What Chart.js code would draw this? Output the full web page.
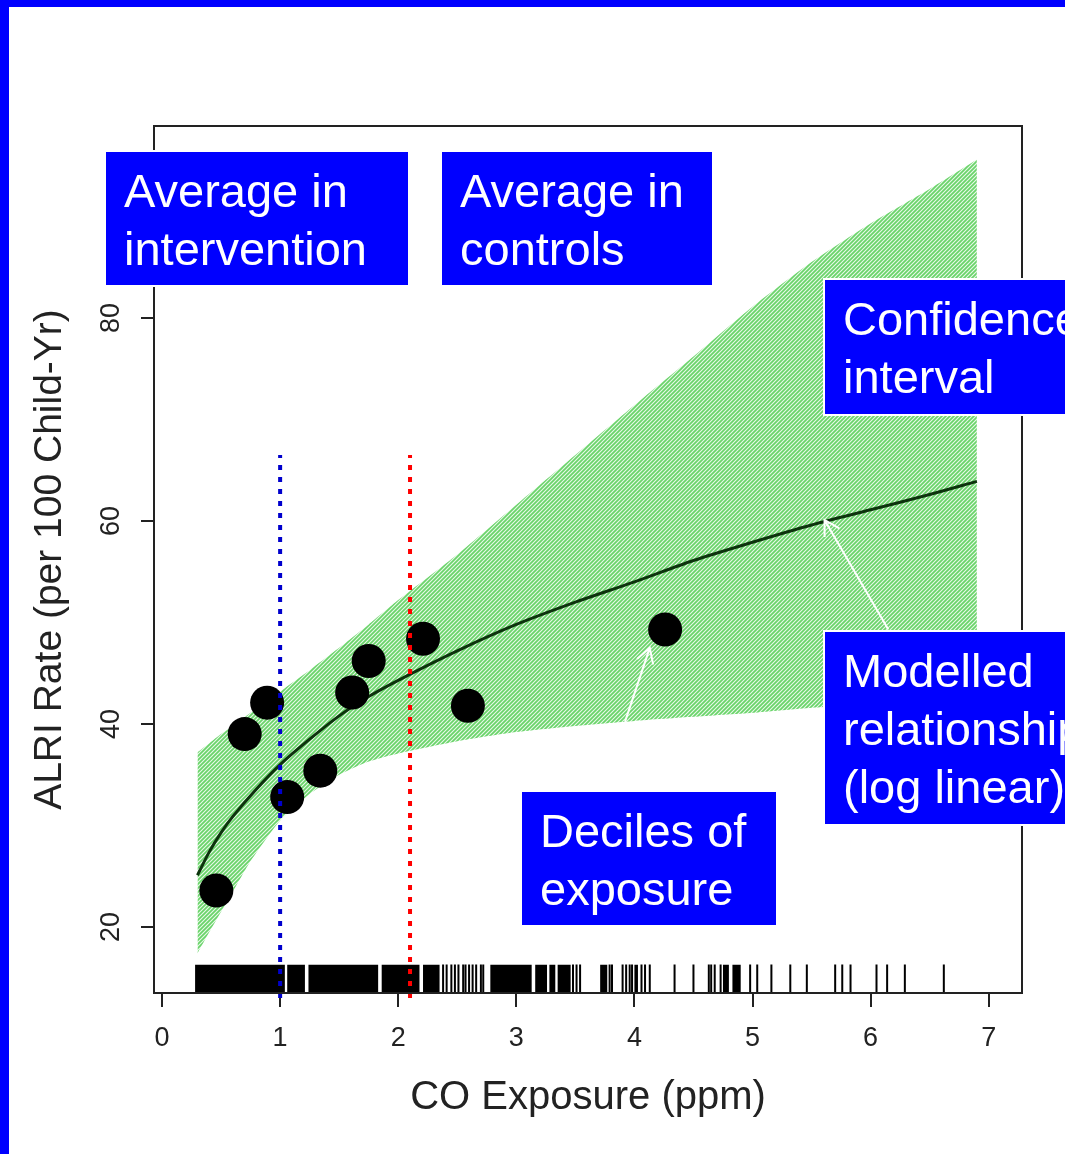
<!DOCTYPE html>
<html>
<head>
<meta charset="utf-8">
<title>ALRI rate vs CO exposure</title>
<script src="https://cdn.jsdelivr.net/npm/chart.js@4.4.1/dist/chart.umd.min.js"></script>
<style>
  html, body { margin: 0; padding: 0; background: #fff; overflow: hidden; width: 1065px; height: 1154px; }
  #frame { position: absolute; left: 0; top: 0; width: 1065px; height: 1154px; box-sizing: border-box;
           border-top: 7px solid #0000ff; border-left: 9px solid #0000ff; pointer-events: none; z-index: 3; }
  #wrap { position: absolute; left: 0; top: 0; width: 1065px; height: 1154px; }
  .note { position: absolute; box-sizing: border-box; background: #0000ff; color: #fff;
          font: 47px/58px 'Liberation Sans', Arial, sans-serif; padding: 10px 0 0 18px;
          white-space: nowrap; overflow: hidden; box-shadow: 0 0 0 2px #fff; z-index: 2; }
</style>
</head>
<body>
<div id="wrap"><canvas id="chart" width="1065" height="1154"></canvas></div>
<div class="note" style="left:106px;top:152px;width:302px;height:133px">Average in<br>intervention</div>
<div class="note" style="left:442px;top:152px;width:270px;height:133px">Average in<br>controls</div>
<div class="note" style="left:825px;top:280px;width:300px;height:134px">Confidence<br>interval</div>
<div class="note" style="left:825px;top:632px;width:300px;height:192px">Modelled<br>relationship<br>(log linear)</div>
<div class="note" style="left:522px;top:792px;width:254px;height:133px">Deciles of<br>exposure</div>
<div id="frame"></div>
<script>
/* ALRI rate vs CO exposure — deciles, log-linear fit, CI band, rug */
(function () {
  'use strict';

  var INK = '#222222', BLUE = '#0000cc', RED = '#ff0000';
  var TXT = "'Liberation Sans', Arial, sans-serif";

  /* ---------- data ---------- */
  var xTicks = [0, 1, 2, 3, 4, 5, 6, 7];
  var yTicks = [20, 40, 60, 80];

  // deciles of exposure (ppm) and ALRI rate per 100 child-yr
  var decileCO   = [0.46, 0.70, 0.89, 1.06, 1.34, 1.61, 1.75, 2.21, 2.59, 4.26];
  var decileRate = [23.6, 39.0, 42.1, 32.8, 35.4, 43.1, 46.2, 48.4, 41.8, 49.3];

  // modelled relationship (log linear)
  var fitCO   = [0.3, 0.4, 0.5, 0.6, 0.8, 1.0, 1.25, 1.5, 1.75, 2.0, 2.5, 3.0, 3.5, 4.0, 4.5, 5.0, 5.5, 6.0, 6.5, 6.9];
  var fitRate = [25.1, 27.4, 29.3, 30.9, 33.6, 36.0, 38.5, 40.8, 42.7, 44.3, 47.2, 49.8, 52.0, 54.0, 56.1, 57.9, 59.6, 61.1, 62.6, 63.9];

  // confidence interval
  var ciCO    = [0.3, 0.4, 0.5, 0.6, 0.75, 1.0, 1.25, 1.5, 1.75, 2.0, 2.5, 3.0, 3.5, 4.0, 4.5, 5.0, 5.5, 6.0, 6.5, 6.9];
  var ciUpper = [37.2, 38.1, 39.0, 39.8, 41.1, 43.2, 45.3, 47.5, 49.8, 52.2, 56.7, 61.6, 66.5, 71.4, 76.2, 81.1, 85.5, 89.3, 92.7, 95.6];
  var ciLower = [17.4, 19.5, 21.5, 23.5, 26.5, 30.5, 33.1, 35.0, 36.3, 37.1, 38.3, 39.2, 39.8, 40.3, 40.7, 41.1, 41.6, 42.0, 42.3, 42.6];

  // average exposure: intervention, controls
  var averageCO = [1.0, 2.1];

  // rug of individual exposures: solid runs and single ticks
  var rugRuns = [[0.28, 1.04], [1.06, 1.21], [1.24, 1.83], [1.86, 2.18], [2.21, 2.35], [2.78, 3.13],
                 [3.16, 3.26], [3.28, 3.33], [3.35, 3.46], [3.71, 3.77], [4.00, 4.03], [4.75, 4.80], [4.83, 4.90]];
  var rugTicks = [2.38, 2.41, 2.45, 2.48, 2.51, 2.55, 2.57, 2.60, 2.63, 2.66, 2.70, 2.72, 3.48, 3.51, 3.54,
                  3.79, 3.81, 3.90, 3.93, 3.96, 3.98, 4.06, 4.09, 4.13, 4.34, 4.50, 4.63, 4.65, 4.68, 4.73,
                  4.98, 5.04, 5.16, 5.32, 5.46, 5.70, 5.76, 5.83, 6.05, 6.14, 6.29, 6.62];

  // annotation arrows [from, to] in data units
  var arrowDeciles  = [[3.92, 40.2], [4.13, 47.5]];
  var arrowModelled = [[6.15, 49.3], [5.61, 60.1]];

  /* ---------- axis extents ---------- */
  var X_MIN = -0.068, X_MAX = 7.282, Y_MIN = 13.5, Y_MAX = 98.9;
  var RUG_TOP = 16.3, AVG_TOP = 66.5, AVG_BOTTOM = 13.0;

  function pts(xs, ys) { return xs.map(function (x, i) { return { x: x, y: ys[i] }; }); }

  var rugRunData = [];
  rugRuns.forEach(function (r) {
    var mid = (Y_MIN + RUG_TOP) / 2;
    rugRunData.push({ x: r[0], y: mid }, { x: r[1], y: mid }, { x: r[1], y: null });
  });
  var rugTickData = [];
  rugTicks.forEach(function (t) {
    rugTickData.push({ x: t, y: Y_MIN }, { x: t, y: RUG_TOP }, { x: t, y: null });
  });

  function hatch() {
    var c = document.createElement('canvas');
    c.width = 4; c.height = 4;
    var g = c.getContext('2d');
    g.fillStyle = '#6ad46a';
    g.fillRect(0, 0, 4, 4);
    g.strokeStyle = 'rgba(255,255,255,0.85)';
    g.lineWidth = 1.1;
    g.beginPath();
    g.moveTo(-1, 5); g.lineTo(5, -1);
    g.moveTo(-1, 1); g.lineTo(1, -1);
    g.moveTo(3, 5); g.lineTo(5, 3);
    g.stroke();
    return g.createPattern(c, 'repeat');
  }

  function lineSet(data, color, width, order, extra) {
    var ds = { data: data, showLine: true, borderColor: color, borderWidth: width,
               pointRadius: 0, pointHoverRadius: 0, fill: false, order: order, spanGaps: false };
    for (var k in extra) ds[k] = extra[k];
    return ds;
  }

  /* ---------- plugins ---------- */
  var framePlugin = {
    id: 'frame',
    afterDraw: function (chart) {
      var a = chart.chartArea, ctx = chart.ctx;
      ctx.save();
      ctx.strokeStyle = INK; ctx.lineWidth = 2;
      ctx.strokeRect(a.left, a.top, a.right - a.left, a.bottom - a.top);
      ctx.restore();
    }
  };

  var arrowPlugin = {
    id: 'arrows',
    afterDatasetsDraw: function (chart) {
      var xs = chart.scales.x, ys = chart.scales.y, ctx = chart.ctx;
      [arrowDeciles, arrowModelled].forEach(function (ar) {
        var x0 = xs.getPixelForValue(ar[0][0]), y0 = ys.getPixelForValue(ar[0][1]);
        var x1 = xs.getPixelForValue(ar[1][0]), y1 = ys.getPixelForValue(ar[1][1]);
        var ang = Math.atan2(y1 - y0, x1 - x0), L = 17, spread = Math.PI / 6;
        ctx.save();
        ctx.strokeStyle = '#fff'; ctx.lineWidth = 2;
        ctx.beginPath();
        ctx.moveTo(x0, y0); ctx.lineTo(x1, y1);
        ctx.moveTo(x1 - L * Math.cos(ang - spread), y1 - L * Math.sin(ang - spread));
        ctx.lineTo(x1, y1);
        ctx.lineTo(x1 - L * Math.cos(ang + spread), y1 - L * Math.sin(ang + spread));
        ctx.stroke();
        ctx.restore();
      });
    }
  };

  /* ---------- chart ---------- */
  var ctx = document.getElementById('chart');
  new Chart(ctx, {
    type: 'scatter',
    data: {
      datasets: [
        lineSet([{ x: averageCO[0], y: AVG_BOTTOM }, { x: averageCO[0], y: AVG_TOP }], BLUE, 4, 0,
                { borderDash: [5, 7], clip: false }),
        lineSet([{ x: averageCO[1], y: AVG_BOTTOM }, { x: averageCO[1], y: AVG_TOP }], RED, 4, 0,
                { borderDash: [5, 7], clip: false }),
        { data: pts(decileCO, decileRate), pointRadius: 17, pointHoverRadius: 17,
          backgroundColor: '#000', borderColor: '#000', borderWidth: 0, order: 1 },
        lineSet(pts(fitCO, fitRate), '#0d330d', 3, 2, { tension: 0.3 }),
        lineSet(rugRunData, '#000', 28, 3, { borderCapStyle: 'butt' }),
        lineSet(rugTickData, '#000', 2, 3, { borderCapStyle: 'butt' }),
        lineSet(pts(ciCO, ciUpper), 'rgba(0,0,0,0)', 0, 5, { fill: '+1', backgroundColor: hatch(), tension: 0.2 }),
        lineSet(pts(ciCO, ciLower), 'rgba(0,0,0,0)', 0, 6, { tension: 0.2 })
      ]
    },
    options: {
      responsive: false,
      animation: false,
      events: [],
      layout: { padding: { left: 0, top: 126, right: 43, bottom: 0 } },
      plugins: { legend: { display: false }, tooltip: { enabled: false } },
      scales: {
        x: {
          type: 'linear', min: X_MIN, max: X_MAX,
          afterBuildTicks: function (s) { s.ticks = xTicks.map(function (v) { return { value: v }; }); },
          afterFit: function (s) { s.height = 161; },
          grid: { drawOnChartArea: false, drawTicks: true, tickLength: 14, color: INK, lineWidth: 2 },
          border: { display: false },
          ticks: { color: INK, padding: 15, font: { family: TXT, size: 27 }, maxRotation: 0 },
          title: { display: true, text: 'CO Exposure (ppm)', color: INK,
                   font: { family: TXT, size: 40, lineHeight: 1 }, padding: { top: 0, bottom: 36 } }
        },
        y: {
          type: 'linear', min: Y_MIN, max: Y_MAX,
          afterBuildTicks: function (s) { s.ticks = yTicks.map(function (v) { return { value: v }; }); },
          afterFit: function (s) { s.width = 154; },
          grid: { drawOnChartArea: false, drawTicks: true, tickLength: 13, color: INK, lineWidth: 2 },
          border: { display: false },
          ticks: { color: INK, padding: 14, crossAlign: 'center', minRotation: 90, maxRotation: 90,
                   font: { family: TXT, size: 27 } },
          title: { display: true, text: 'ALRI Rate (per 100 Child-Yr)', color: INK,
                   font: { family: TXT, size: 39, lineHeight: 1 }, padding: { top: 31, bottom: 0 } }
        }
      }
    },
    plugins: [framePlugin, arrowPlugin]
  });
})();
</script>
</body>
</html>
